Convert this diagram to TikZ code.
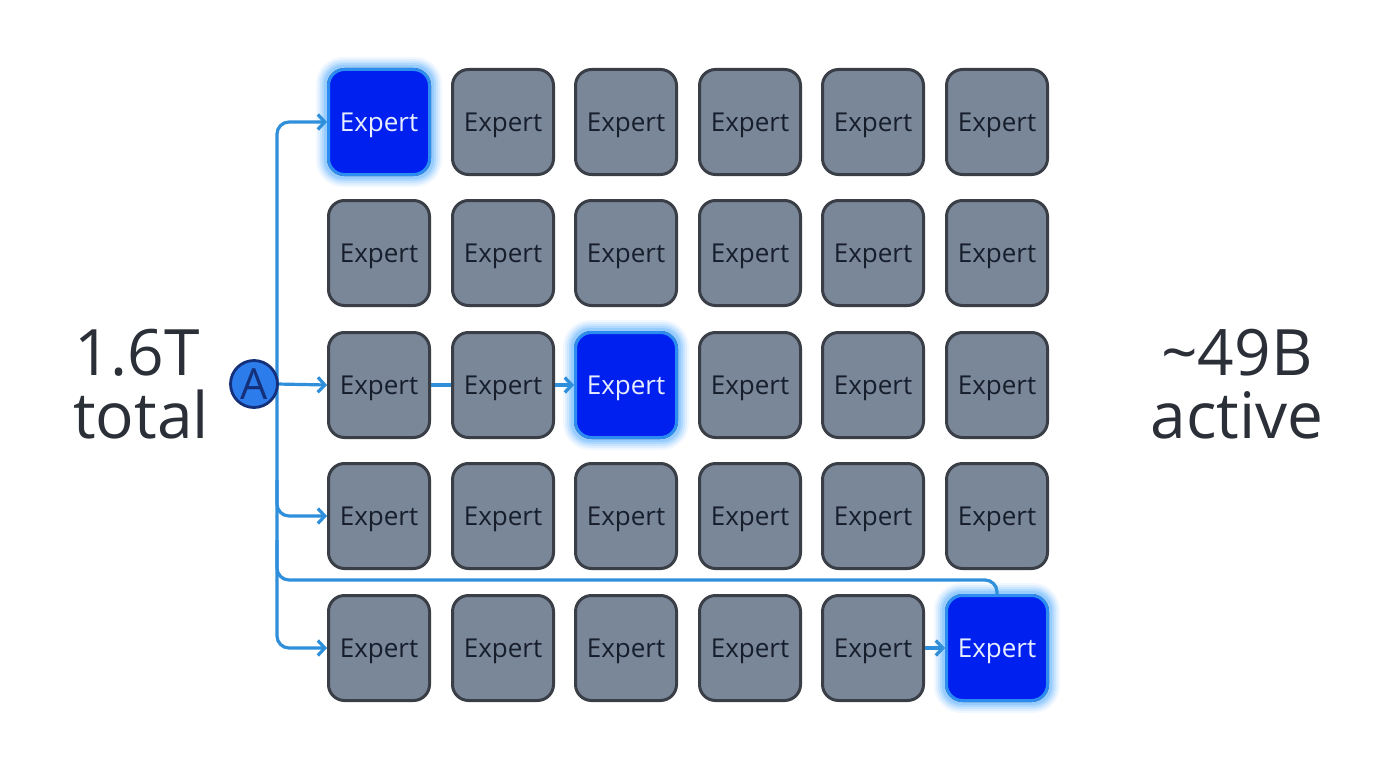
\documentclass[tikz,border=0pt]{standalone}
\usepackage{fontspec}
\setmainfont{Open Sans}
\usetikzlibrary{arrows.meta,backgrounds,calc}
\definecolor{grayfill}{RGB}{122,135,153}
\definecolor{grayborder}{RGB}{58,63,71}
\definecolor{bluefill}{RGB}{0,32,240}
\definecolor{blueborder}{RGB}{45,140,240}
\definecolor{glowc}{RGB}{120,190,255}
\definecolor{connc}{RGB}{47,143,219}
\definecolor{routerfill}{RGB}{44,124,236}
\definecolor{routerborder}{RGB}{20,48,122}
\definecolor{darktext}{RGB}{43,48,56}
\definecolor{experttext}{RGB}{22,30,44}
\definecolor{lighttext}{RGB}{232,238,255}
\tikzset{
  expert/.style={draw=grayborder, fill=grayfill, line width=3pt, rounded corners=16pt,
    minimum width=101pt, minimum height=105pt, inner sep=0pt,
    text height=18.5pt, text depth=0pt,
    font=\fontsize{26}{28}\selectfont, text=experttext},
  hot/.style={expert, draw=blueborder, fill=bluefill, text=lighttext},
  conn/.style={draw=connc, line width=3.2pt, -{Straight Barb[length=7pt,width=15pt,line width=3.2pt]}},
  plain/.style={draw=connc, line width=3.2pt},
  router/.style={circle, draw=routerborder, fill=routerfill, line width=2.8pt, minimum size=47pt,
    inner sep=0pt, text height=30pt, text depth=0pt, font=\fontsize{43}{43}\selectfont, text=routerborder},
  big/.style={anchor=base, font=\fontsize{64}{63}\selectfont, text=darktext, inner sep=0pt},
}
\begin{document}
\begin{tikzpicture}[x=1pt,y=-1pt]
\useasboundingbox (0,0) rectangle (1376,768);
% experts
\foreach \r/\y in {1/122,2/253,3/385,4/516,5/648}{
  \foreach \c/\x in {1/379,2/503,3/626,4/750,5/873,6/997}{
    \node[expert] (e\r\c) at (\x,\y) {Expert};
  }
}
\node[hot] (e11) at (379,122) {Expert};
\node[hot] (e33) at (626,385) {Expert};
\node[hot] (e56) at (997,648) {Expert};
\begin{scope}[on background layer]
\fill[white] (0,0) rectangle (1376,768);
\foreach \n in {e11,e33,e56}{
  \foreach \d/\rr/\o in {11/27/0.10,9/25/0.14,7/23/0.20,5/21/0.30,3/19/0.45}{
    \fill[glowc, opacity=\o, rounded corners=\rr pt]
      ([xshift=-\d pt,yshift=-\d pt]\n.south west) rectangle ([xshift=\d pt,yshift=\d pt]\n.north east);
  }
}
\end{scope}
% labels
\node[big] (n16) at (137,375) {1.6T};
\node[big] (ntotal) at (141,438) {total};
\node[big] (n49) at (1237,375) {\textasciitilde49B};
\node[big] (nactive) at (1237,438) {active};
% connectors
\coordinate (Ae) at (277,384);
\draw[conn, rounded corners=12pt] (Ae) |- (e11.west);
\draw[conn, rounded corners=12pt] (Ae) |- (e51.west);
\draw[conn, rounded corners=12pt] (277,480) |- (e41.west);
\draw[plain, rounded corners=12pt] (277,540) |- (997,580) -- (e56.north);
\draw[conn] (Ae) -- (e31.west);
\draw[plain] (e31.east) -- (e32.west);
\draw[conn] (e32.east) -- (e33.west);
\draw[conn] (e55.east) -- (e56.west);
% router
\node[router] (A) at (254,384) {A};
\end{tikzpicture}
\end{document}
